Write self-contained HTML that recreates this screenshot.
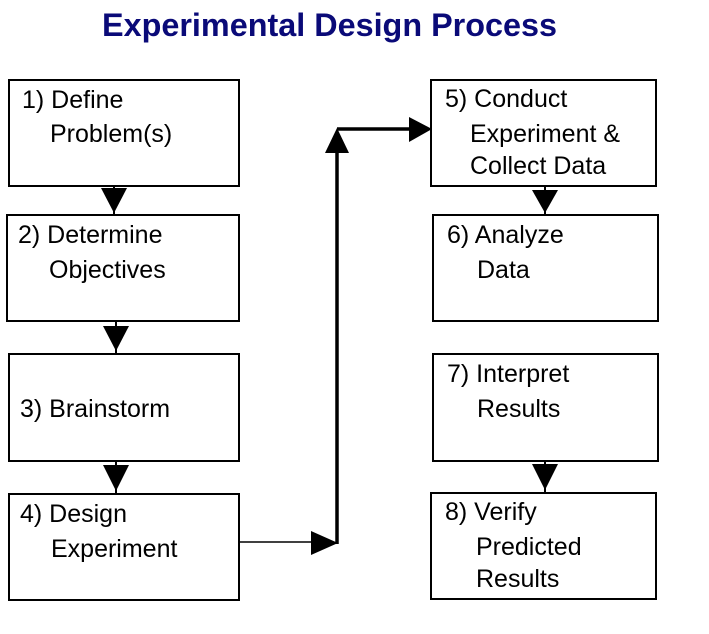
<!DOCTYPE html>
<html><head><meta charset="utf-8"><style>
html,body{margin:0;padding:0;background:#fff;}
svg{display:block;}
text{font-family:"Liberation Sans",Arial,sans-serif;}
.t{font-size:25px;fill:#000;}
</style></head><body>
<svg width="709" height="634" viewBox="0 0 709 634" xmlns="http://www.w3.org/2000/svg">
<text x="102" y="36" font-size="32" font-weight="bold" fill="#0a0a78" textLength="455" lengthAdjust="spacingAndGlyphs">Experimental Design Process</text>
<g fill="none" stroke="#000" stroke-width="2">
<rect x="9" y="80" width="230" height="106"/>
<rect x="7" y="215" width="232" height="106"/>
<rect x="9" y="354" width="230" height="107"/>
<rect x="9" y="494" width="230" height="106"/>
<rect x="431" y="80" width="225" height="106"/>
<rect x="433" y="215" width="225" height="106"/>
<rect x="433" y="354" width="225" height="107"/>
<rect x="431" y="493" width="225" height="106"/>
</g>
<g stroke="#000">
<line x1="114" y1="186" x2="114" y2="215" stroke-width="2"/>
<line x1="116" y1="321" x2="116" y2="354" stroke-width="2"/>
<line x1="116" y1="461" x2="116" y2="494" stroke-width="2"/>
<line x1="545" y1="186" x2="545" y2="215" stroke-width="2"/>
<line x1="545" y1="461" x2="545" y2="493" stroke-width="2"/>
<line x1="239" y1="542" x2="315" y2="542" stroke-width="1.5"/>
<line x1="337" y1="544" x2="337" y2="150" stroke-width="3.5"/>
<line x1="337" y1="129" x2="412" y2="129" stroke-width="3.5"/>
</g>
<g fill="#000">
<polygon points="101,188 127,188 114,213"/>
<polygon points="103,326 129,326 116,351"/>
<polygon points="103,465 129,465 116,491"/>
<polygon points="532,190 558,190 545,213"/>
<polygon points="532,464 558,464 545,490"/>
<polygon points="311,531 311,555 338,543"/>
<polygon points="325,153 349,153 337,128"/>
<polygon points="409,117 409,142 432,129"/>
</g>
<text class="t" x="22" y="108">1) Define</text>
<text class="t" x="50" y="142">Problem(s)</text>
<text class="t" x="18" y="243">2) Determine</text>
<text class="t" x="49" y="278">Objectives</text>
<text class="t" x="20" y="417">3) Brainstorm</text>
<text class="t" x="20" y="522">4) Design</text>
<text class="t" x="51" y="557">Experiment</text>
<text class="t" x="445" y="107">5) Conduct</text>
<text class="t" x="470" y="142">Experiment &amp;</text>
<text class="t" x="470" y="174">Collect Data</text>
<text class="t" x="447" y="243">6) Analyze</text>
<text class="t" x="477" y="278">Data</text>
<text class="t" x="447" y="382">7) Interpret</text>
<text class="t" x="477" y="417">Results</text>
<text class="t" x="445" y="520">8) Verify</text>
<text class="t" x="476" y="555">Predicted</text>
<text class="t" x="476" y="587">Results</text>
</svg>
</body></html>
